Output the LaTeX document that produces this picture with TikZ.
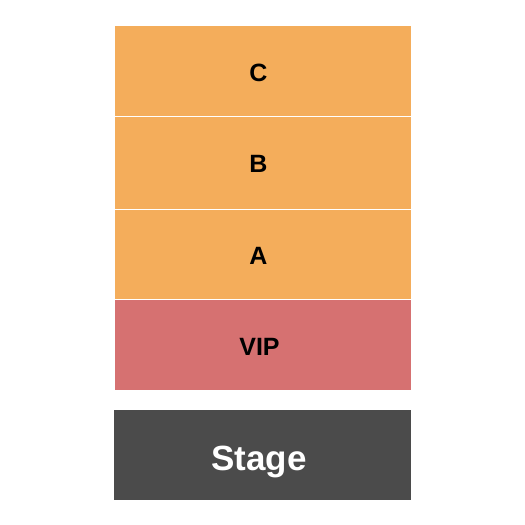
\documentclass[tikz,border=0pt]{standalone}
\usepackage{fontspec}
\setmainfont{Liberation Sans}
\definecolor{secor}{HTML}{F4AD5B}
\definecolor{secvip}{HTML}{D67171}
\definecolor{secstage}{HTML}{4B4B4B}
\begin{document}
\begin{tikzpicture}[x=1pt,y=-1pt,
  sec/.style={draw=white,line width=0.8pt,inner sep=0pt,minimum width=297pt},
  lab/.style={inner sep=0pt,font=\bfseries\fontsize{25}{25}\selectfont},
]
\useasboundingbox[fill=white] (0,0) rectangle (525,525);
\node[sec,fill=secor,minimum height=91pt] (C) at (262.5,71) {};
\node[sec,fill=secor,minimum height=93pt] (B) at (262.5,163) {};
\node[sec,fill=secor,minimum height=90pt] (A) at (262.5,254.5) {};
\node[sec,fill=secvip,minimum height=91pt] (VIP) at (262.5,345) {};
\node[sec,draw=none,fill=secstage,minimum height=90pt] (S) at (262.5,455) {};
\node[lab] (Ct) at (258.5,73) {C};
\node[lab] (Bt) at (258.5,164) {B};
\node[lab] (At) at (258.5,255.5) {A};
\node[lab] (Vt) at (259.5,346.5) {VIP};
\node[lab,text=white,font=\bfseries\fontsize{35}{35}\selectfont] (St) at (259,462) {Stage};
\end{tikzpicture}
\end{document}
